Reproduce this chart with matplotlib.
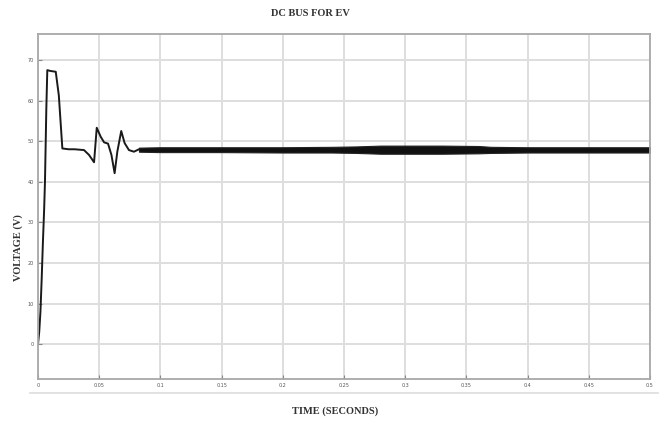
import numpy as np
import matplotlib.pyplot as plt
from matplotlib.lines import Line2D

# start-up transient of the DC bus voltage (s, V)
t_start = [0.0, 0.001, 0.002, 0.003, 0.004, 0.005, 0.0057, 0.0068, 0.0076, 0.010,
           0.0145, 0.017, 0.0199, 0.025, 0.030, 0.0376, 0.0417, 0.0458, 0.048,
           0.0512, 0.054, 0.0572, 0.060, 0.0626, 0.0648, 0.068, 0.0708, 0.0743,
           0.0784, 0.0825]
v_start = [0.0, 3.0, 8.0, 16.0, 25.0, 33.0, 40.0, 58.0, 67.5, 67.3,
           67.1, 61.3, 48.2, 48.0, 48.0, 47.8, 46.6, 44.8, 53.3,
           51.1, 49.7, 49.4, 46.6, 42.1, 47.4, 52.5, 49.5, 47.8,
           47.4, 48.0]

# ripple envelope once the bus has settled (s, V)
t_band = [0.0825, 0.10, 0.15, 0.20, 0.24, 0.26, 0.28, 0.30, 0.33, 0.36, 0.37, 0.40, 0.45, 0.50]
v_band_hi = [48.4, 48.5, 48.5, 48.5, 48.6, 48.7, 48.9, 48.9, 48.9, 48.8, 48.6, 48.5, 48.5, 48.5]
v_band_lo = [47.4, 47.3, 47.3, 47.2, 47.2, 47.1, 46.9, 46.9, 46.9, 47.0, 47.1, 47.2, 47.2, 47.2]

x_ticks = [0, 0.05, 0.1, 0.15, 0.2, 0.25, 0.3, 0.35, 0.4, 0.45, 0.5]
x_labels = ['0', '0.05', '0.1', '0.15', '0.2', '0.25', '0.3', '0.35', '0.4', '0.45', '0.5']
y_ticks = [0, 10, 20, 30, 40, 50, 60, 70]

fig = plt.figure(figsize=(6.65, 4.24), dpi=100)
ax = fig.add_axes([38 / 665, 1 - 379 / 424, 612 / 665, 345 / 424])

ax.plot(t_start, v_start, color='#1a1a1a', lw=1.4, solid_joinstyle='round')
ax.fill_between(t_band, v_band_lo, v_band_hi, color='#111111', lw=0.8, edgecolor='#222222')

ax.set_xlim(0, 0.5)
ax.set_ylim(-8.6, 76.4)
ax.set_xticks(x_ticks)
ax.set_xticklabels(x_labels)
ax.set_yticks(y_ticks)
ax.tick_params(direction='in', length=3, width=0.8, color='#888888',
               labelsize=3.5, labelcolor='#555555', pad=3)
ax.grid(True, color='#dedede', lw=1.4)
ax.set_axisbelow(True)
for s in ax.spines.values():
    s.set_color('#a8a8a8')
    s.set_linewidth(1.3)

fig.text(310 / 665, 1 - 14 / 424, 'DC BUS FOR EV', ha='center', va='center',
         family='Liberation Serif', weight='bold', fontsize=7.5, color='#333333')
fig.text(335 / 665, 1 - 411 / 424, 'TIME (SECONDS)', ha='center', va='center',
         family='Liberation Serif', weight='bold', fontsize=7.5, color='#333333')
fig.text(18 / 665, 1 - 248 / 424, 'VOLTAGE (V)', ha='center', va='center', rotation=90,
         family='Liberation Serif', weight='bold', fontsize=7.5, color='#333333')

# thin rule under the tick labels
fig.add_artist(Line2D([30 / 665, 658 / 665], [1 - 393 / 424, 1 - 393 / 424],
                      color='#dddddd', lw=1.2))

fig.savefig('out.png', dpi=100)
